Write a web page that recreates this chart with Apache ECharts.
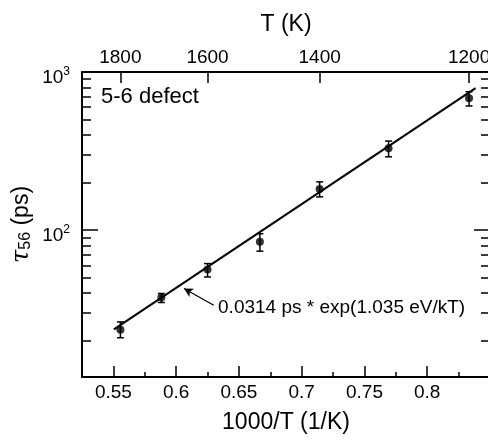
<!DOCTYPE html>
<html>
<head>
<meta charset="utf-8">
<script src="https://cdn.jsdelivr.net/npm/echarts@6/dist/echarts.min.js"></script>
<style>
  html, body { margin: 0; padding: 0; background: #fff; }
  #chart { width: 488px; height: 443px; }
</style>
</head>
<body>
<div id="chart"></div>
<script>
// axis ticks
const xTicks = [0.55, 0.6, 0.65, 0.7, 0.75, 0.8];
const xMinorTicks = [0.575, 0.625, 0.675, 0.725, 0.775, 0.825];
const tempTicks = [1800, 1600, 1400, 1200];
const yMajorTicks = [100, 1000];
const yMinorTicks = [20, 30, 40, 50, 60, 70, 80, 90, 200, 300, 400, 500, 600, 700, 800, 900];

// measured points (1000/T, tau in ps) with error bars
const pointX = [0.5556, 0.5882, 0.625, 0.6667, 0.7143, 0.7692, 0.8333];
const tau = [23.5, 37.5, 56.4, 84.4, 181.8, 329, 682];
const tauLow = [20.9, 34.9, 50.6, 73.7, 162.4, 291, 610];
const tauHigh = [26.3, 39.8, 61.5, 95, 202, 366, 750];

// fitted line ends
const fitX = [0.5504, 0.8385];
const fitTau = [23.6, 790];

// annotation arrow (tip, tail) in data units
const arrowTip = [0.6062, 42.8];
const arrowTail = [0.6299, 33.5];
const fitLabel = '0.0314 ps * exp(1.035 eV/kT)';

const yMin = 11.8, yMax = 1000;
const font = 'Liberation Sans, Arial, Helvetica, sans-serif';
const black = '#000';

function lg(v) { return Math.log10(v); }

let chart = echarts.init(document.getElementById('chart'));

let tickAxisY = function (pos, values, len, labels) {
  return {
    type: 'value',
    position: pos,
    min: lg(yMin),
    max: lg(yMax),
    axisLine: { show: false },
    splitLine: { show: false },
    axisTick: {
      show: true, inside: true, length: len, customValues: values.map(lg),
      lineStyle: { color: black, width: 1.5 }
    },
    axisLabel: labels ? {
      show: true, margin: 12, customValues: values.map(lg),
      padding: [11, 0, 0, 0],
      formatter: function (v) { return '{b|10}{s|' + Math.round(v) + '}'; },
      rich: {
        b: { fontSize: 19, fontFamily: font, color: black },
        s: { fontSize: 12, fontFamily: font, color: black, padding: [0, 0, 12, 0] }
      }
    } : { show: false }
  };
};

let option = {
  animation: false,
  backgroundColor: '#fff',
  grid: { left: 82, top: 72, width: 408, height: 305, containLabel: false, outerBoundsMode: 'none' },
  graphic: [{
    type: 'text', left: 101, top: 86,
    style: { text: '5-6 defect', font: '22px ' + font, fill: black }
  }],
  xAxis: [
    {
      type: 'value', position: 'bottom', min: 0.525, max: 0.85,
      axisLine: { show: true, lineStyle: { color: black, width: 2 } },
      splitLine: { show: false },
      axisTick: { inside: true, length: 11, customValues: xTicks, lineStyle: { color: black, width: 1.5 } },
      axisLabel: { customValues: xTicks, margin: 6, fontSize: 19, fontFamily: font, color: black },
      name: '1000/T (1/K)', nameLocation: 'middle', nameGap: 34,
      nameTextStyle: { fontSize: 23, fontFamily: font, color: black }
    },
    {
      type: 'value', position: 'bottom', min: 0.525, max: 0.85,
      axisLine: { show: false }, splitLine: { show: false },
      axisTick: { inside: true, length: 5, customValues: xMinorTicks, lineStyle: { color: black, width: 1.5 } },
      axisLabel: { show: false }
    },
    {
      type: 'value', position: 'top', min: 0.525, max: 0.85,
      axisLine: { show: true, lineStyle: { color: black, width: 2 } },
      splitLine: { show: false },
      axisTick: { inside: true, length: 11, customValues: tempTicks.map(t => 1000 / t), lineStyle: { color: black, width: 1.5 } },
      axisLabel: {
        customValues: tempTicks.map(t => 1000 / t), margin: 5, fontSize: 19, fontFamily: font, color: black,
        formatter: function (v) { return String(Math.round(1000 / v)); }
      },
      name: 'T (K)', nameLocation: 'middle', nameGap: 36,
      nameTextStyle: { fontSize: 23, fontFamily: font, color: black }
    }
  ],
  yAxis: [
    {
      type: 'log', position: 'left', min: yMin, max: yMax,
      axisLine: { show: true, lineStyle: { color: black, width: 2 } },
      axisTick: { show: false }, axisLabel: { show: false }, splitLine: { show: false },
      name: '{t|τ}{sub|56}{n| (ps)}', nameLocation: 'middle', nameGap: 48,
      nameTextStyle: {
        rich: {
          t: { fontSize: 24, fontFamily: 'DejaVu Serif', fontStyle: 'italic', color: black },
          sub: { fontSize: 16, fontFamily: font, color: black, padding: [8, 0, 0, 0] },
          n: { fontSize: 23, fontFamily: font, color: black }
        }
      }
    },
    tickAxisY('left', yMajorTicks, 16, true),
    tickAxisY('left', yMinorTicks, 9, false),
    {
      type: 'log', position: 'right', min: yMin, max: yMax,
      axisLine: { show: true, lineStyle: { color: black, width: 2 } },
      axisTick: { show: false }, axisLabel: { show: false }, splitLine: { show: false }
    },
    tickAxisY('right', yMajorTicks, 16, false),
    tickAxisY('right', yMinorTicks, 9, false)
  ],
  series: [
    {
      name: 'fit',
      type: 'line',
      xAxisIndex: 0, yAxisIndex: 0,
      data: fitX.map((x, i) => [x, fitTau[i]]),
      symbol: 'none',
      lineStyle: { color: black, width: 2 },
      markLine: {
        silent: true,
        symbol: ['arrow', 'none'],
        symbolSize: [7, 9],
        lineStyle: { color: black, width: 1.2, type: 'solid' },
        label: {
          show: true, position: 'end', distance: 5,
          formatter: fitLabel, fontSize: 19, fontFamily: font, color: black
        },
        data: [[{ coord: arrowTip }, { coord: arrowTail }]]
      }
    },
    {
      name: 'errors',
      type: 'custom',
      xAxisIndex: 0, yAxisIndex: 0,
      data: pointX.map((x, i) => [x, tauLow[i], tauHigh[i]]),
      encode: { x: 0, y: [1, 2] },
      renderItem: function (params, api) {
        let x = api.value(0);
        let lo = api.coord([x, api.value(1)]);
        let hi = api.coord([x, api.value(2)]);
        let w = 3.5;
        let st = { stroke: black, lineWidth: 1.5 };
        return {
          type: 'group',
          children: [
            { type: 'line', shape: { x1: lo[0], y1: lo[1], x2: hi[0], y2: hi[1] }, style: st },
            { type: 'line', shape: { x1: lo[0] - w, y1: lo[1], x2: lo[0] + w, y2: lo[1] }, style: st },
            { type: 'line', shape: { x1: hi[0] - w, y1: hi[1], x2: hi[0] + w, y2: hi[1] }, style: st }
          ]
        };
      }
    },
    {
      name: 'tau',
      type: 'scatter',
      xAxisIndex: 0, yAxisIndex: 0,
      data: pointX.map((x, i) => [x, tau[i]]),
      symbol: 'circle',
      symbolSize: 8,
      itemStyle: { color: black }
    }
  ]
};

chart.setOption(option);
</script>
</body>
</html>
